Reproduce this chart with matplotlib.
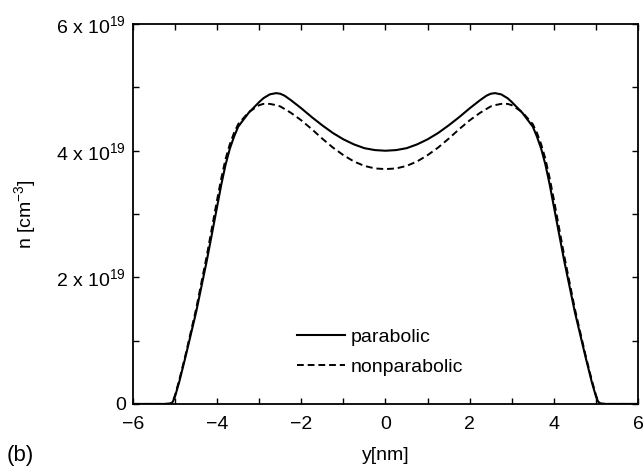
import numpy as np
import matplotlib
matplotlib.use("Agg")
import matplotlib.pyplot as plt
from matplotlib.ticker import MultipleLocator, FixedLocator, FixedFormatter

plt.rcParams['font.family'] = ['Liberation Sans', 'DejaVu Sans']
plt.rcParams['mathtext.default'] = 'regular'

# half profile (y >= 0), mirrored below
y_half = [0.0, 0.25, 0.5, 0.75, 1.0, 1.25, 1.5, 1.75, 2.0, 2.25, 2.4, 2.5, 2.6, 2.75,
          2.9, 3.0, 3.25, 3.5, 3.6, 3.7, 3.8, 3.9, 4.0, 4.1, 4.25, 4.5, 4.75,
          4.9, 5.0, 5.05, 5.1, 5.25, 5.5, 6.0]
n_parabolic = [4.00, 4.01, 4.04, 4.10, 4.18, 4.28, 4.40, 4.53, 4.67, 4.80, 4.87, 4.90, 4.91, 4.89,
               4.83, 4.77, 4.60, 4.38, 4.22, 4.03, 3.78, 3.47, 3.12, 2.77, 2.25, 1.45, 0.75,
               0.35, 0.12, 0.04, 0.0, 0.0, 0.0, 0.0]
n_nonparabolic = [3.71, 3.72, 3.76, 3.83, 3.93, 4.05, 4.19, 4.34, 4.48, 4.60, 4.66, 4.70, 4.72, 4.74,
                  4.74, 4.72, 4.61, 4.42, 4.28, 4.10, 3.87, 3.57, 3.23, 2.87, 2.33, 1.50, 0.78,
                  0.38, 0.14, 0.05, 0.01, 0.0, 0.0, 0.0]

yticks = [0, 2, 4, 6]
ytick_labels = ['0', '2 x 10$^{19}$', '4 x 10$^{19}$', '6 x 10$^{19}$']
xticks = [-6, -4, -2, 0, 2, 4, 6]


def mirror(xs, vs):
    xs = np.array(xs)
    vs = np.array(vs)
    return np.concatenate([-xs[::-1], xs[1:]]), np.concatenate([vs[::-1], vs[1:]])


fig = plt.figure(figsize=(6.44, 4.73), dpi=100)
ax = fig.add_axes([0.2065, 0.146, 0.7842, 0.803])

xp, vp = mirror(y_half, n_parabolic)
xn, vn = mirror(y_half, n_nonparabolic)
ax.plot(xp, vp, 'k-', lw=1.5, label='parabolic')
ax.plot(xn, vn, 'k--', lw=1.4, dashes=(3.5, 2), label='nonparabolic')

ax.set_xlim(-6, 6)
ax.set_ylim(0, 6)
ax.xaxis.set_major_locator(FixedLocator(xticks))
ax.xaxis.set_minor_locator(MultipleLocator(1))
ax.yaxis.set_major_locator(FixedLocator(yticks))
ax.yaxis.set_major_formatter(FixedFormatter(ytick_labels))
ax.yaxis.set_minor_locator(MultipleLocator(1))
ax.tick_params(which='both', direction='in', top=True, right=True, length=4,
               width=1, labelsize=14)
ax.tick_params(axis='x', pad=9)
ax.tick_params(axis='y', pad=5)
for s in ax.spines.values():
    s.set_linewidth(1.3)

ax.set_xlabel('y[nm]', fontsize=14, labelpad=10)
ax.set_ylabel('n [cm$^{-3}$]', fontsize=14, labelpad=13)
fig.text(0.010, 0.025, '(b)', fontsize=16)

ax.legend(loc='upper left', bbox_to_anchor=(0.29, 0.245), frameon=False,
          fontsize=14, handlelength=2.45, handletextpad=0.3, labelspacing=0.62)

fig.savefig('out.png', dpi=100)
